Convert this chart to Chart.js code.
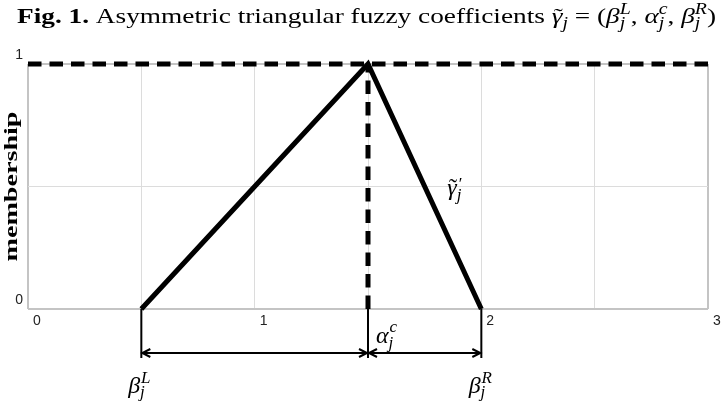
<!DOCTYPE html>
<html>
<head>
<meta charset="utf-8">
<script src="https://cdn.jsdelivr.net/npm/chart.js@4.4.0/dist/chart.umd.min.js"></script>
<style>
  html, body { margin: 0; padding: 0; background: #fff; }
  #wrap { width: 721px; height: 404px; }
</style>
</head>
<body>
<div id="wrap"><canvas id="fuzzy_Chart" width="721" height="404"></canvas></div>
<script>
// membership function (triangle)
const triangleX = [0.5, 1.5, 2];
const triangleY = [0, 1, 0];
// dashed guide lines
const topLineX = [0, 3];
const topLineY = [1, 1];
const centerLineX = [1.5, 1.5];
const centerLineY = [0, 1];
// tick labels shown
const xTicks = [0, 1, 2, 3];
const yTicks = [0, 1];
// spread brackets under the axis: left end, centre, right end
const bracketX = [0.5, 1.5, 2];

const serif = "'Liberation Serif', 'DejaVu Serif', serif";
const sans = "'Liberation Sans', Arial, sans-serif";
function font(style, size) {
    return style + ' ' + size + 'px ' + serif;
}
function toPoints(xs, ys) {
    return xs.map((x, i) => ({ x: x, y: ys[i] }));
}

// small rich-text helper (sub/superscripts, accents)
function partWidth(ctx, p) {
    if (p.accent) return 0;
    ctx.font = p.font;
    if (p.sup !== undefined) {
        const subW = ctx.measureText(p.sub).width;
        ctx.font = p.supFont || p.font;
        return Math.max(ctx.measureText(p.sup).width + (p.supDx || 0), subW);
    }
    return ctx.measureText(p.text).width;
}
function drawRich(ctx, parts, x, y, opts) {
    opts = opts || {};
    let total = 0;
    parts.forEach(p => { total += partWidth(ctx, p); });
    const sx = opts.width ? opts.width / total : 1;
    ctx.save();
    ctx.translate(x, y);
    if (opts.rotate) ctx.rotate(opts.rotate);
    ctx.scale(sx, 1);
    ctx.textAlign = 'left';
    ctx.textBaseline = 'alphabetic';
    ctx.fillStyle = '#000';
    let cx = opts.align === 'center' ? -total / 2 : 0;
    let lastX = 0, lastW = 0;
    parts.forEach(p => {
        const w = partWidth(ctx, p);
        ctx.font = p.font;
        if (p.accent) {
            const aw = ctx.measureText(p.accent).width;
            ctx.fillText(p.accent, lastX + lastW / 2 - aw / 2 + (p.dx || 0), p.dy || 0);
            return;
        }
        if (p.sup !== undefined) {
            ctx.fillText(p.sub, cx, p.subDy);
            ctx.font = p.supFont || p.font;
            ctx.fillText(p.sup, cx + (p.supDx || 0), p.supDy);
        } else {
            ctx.fillText(p.text, cx, p.dy || 0);
        }
        lastX = cx;
        lastW = w;
        cx += w;
    });
    ctx.restore();
}

const T = 22, S = 16;
const titleParts = [
    { text: 'Fig. 1.', font: font('bold', T) },
    { text: ' Asymmetric triangular fuzzy coefficients ', font: font('normal', T) },
    { text: 'γ', font: font('italic', T) },
    { accent: '˜', font: font('normal', T), dx: 1 },
    { text: 'j', font: font('italic', S), dy: 5 },
    { text: ' = (', font: font('normal', T) },
    { text: 'β', font: font('italic', T) },
    { sup: 'L', sub: 'j', font: font('italic', S), supDy: -9, subDy: 5 },
    { text: ', ', font: font('normal', T) },
    { text: 'α', font: font('italic', T) },
    { sup: 'c', sub: 'j', font: font('italic', S), supDy: -9, subDy: 5 },
    { text: ', ', font: font('normal', T) },
    { text: 'β', font: font('italic', T) },
    { sup: 'R', sub: 'j', font: font('italic', S), supDy: -9, subDy: 5 },
    { text: ')', font: font('normal', T) }
];

const annotationPlugin = {
    id: 'annotations',
    afterDraw(chart) {
        const ctx = chart.ctx;
        const xs = chart.scales.x;
        const ys = chart.scales.y;
        const bottom = chart.chartArea.bottom;

        // title
        drawRich(ctx, titleParts, 17, 23, { width: 699 });

        // y axis title
        drawRich(ctx, [{ text: 'membership', font: font('bold', 19) }],
            17, (chart.chartArea.top + bottom) / 2,
            { rotate: -Math.PI / 2, align: 'center', width: 150 });

        // brackets below the axis
        ctx.save();
        ctx.strokeStyle = '#000';
        ctx.lineWidth = 2;
        const px = bracketX.map(v => xs.getPixelForValue(v));
        px.forEach(p => {
            ctx.beginPath();
            ctx.moveTo(p, bottom);
            ctx.lineTo(p, bottom + 49);
            ctx.stroke();
        });
        const ay = bottom + 44;
        for (let i = 0; i < px.length - 1; i++) {
            const a = px[i] + 1, b = px[i + 1] - 1;
            ctx.beginPath();
            ctx.moveTo(a, ay);
            ctx.lineTo(b, ay);
            ctx.moveTo(a + 8, ay - 4);
            ctx.lineTo(a, ay);
            ctx.lineTo(a + 8, ay + 4);
            ctx.moveTo(b - 8, ay - 4);
            ctx.lineTo(b, ay);
            ctx.lineTo(b - 8, ay + 4);
            ctx.stroke();
        }
        ctx.restore();

        // labels
        const L = 24, s = 17;
        drawRich(ctx, [
            { text: 'β', font: font('italic', L) },
            { sup: 'L', sub: 'j', font: font('italic', s), supDy: -10, subDy: 4, supDx: 1 }
        ], px[0] - 2, bottom + 84, { align: 'center' });
        drawRich(ctx, [
            { text: 'α', font: font('italic', L) },
            { sup: 'c', sub: 'j', font: font('italic', s), supDy: -11, subDy: 5, supDx: 1 }
        ], px[1] + 8, bottom + 34);
        drawRich(ctx, [
            { text: 'β', font: font('italic', L) },
            { sup: 'R', sub: 'j', font: font('italic', s), supDy: -10, subDy: 4, supDx: 1 }
        ], px[2] - 1, bottom + 84, { align: 'center' });
        drawRich(ctx, [
            { text: 'γ', font: font('italic', L) },
            { accent: '˜', font: font('normal', L), dx: 1 },
            { sup: '′', sub: 'j', font: font('italic', s), supFont: font('normal', s),
              supDy: -6, subDy: 5, supDx: 2 }
        ], xs.getPixelForValue(1.85), ys.getPixelForValue(0.5) + 8);
    }
};

const edgeGrid = (ctx, lo, hi) => ctx.tick && (ctx.tick.value === lo || ctx.tick.value === hi);

const ctxFuzzy = document.getElementById('fuzzy_Chart').getContext('2d');
new Chart(ctxFuzzy, {
    type: 'scatter',
    data: {
        datasets: [
            {
                data: toPoints(triangleX, triangleY),
                borderColor: '#000',
                borderWidth: 5,
                showLine: true,
                pointRadius: 0,
                clip: false
            },
            {
                data: toPoints(centerLineX, centerLineY),
                borderColor: '#000',
                borderWidth: 5,
                borderDash: [13.5, 8],
                showLine: true,
                pointRadius: 0,
                clip: false
            },
            {
                data: toPoints(topLineX, topLineY),
                borderColor: '#000',
                borderWidth: 5,
                borderDash: [13.5, 8],
                showLine: true,
                pointRadius: 0,
                clip: false
            }
        ]
    },
    options: {
        responsive: false,
        maintainAspectRatio: false,
        devicePixelRatio: 1,
        animation: false,
        layout: {
            padding: { top: 64, right: 13, left: 0, bottom: 0 }
        },
        plugins: {
            legend: { display: false },
            title: { display: false },
            tooltip: { enabled: false }
        },
        scales: {
            x: {
                type: 'linear',
                min: 0,
                max: 3,
                afterFit: (scale) => { scale.height = 95; },
                ticks: {
                    stepSize: 0.5,
                    autoSkip: false,
                    maxRotation: 0,
                    align: 'start',
                    labelOffset: 5,
                    padding: 4,
                    color: '#222',
                    font: { family: sans, size: 14 },
                    callback: (v) => xTicks.includes(v) ? String(v) : ''
                },
                grid: {
                    drawTicks: false,
                    color: (c) => edgeGrid(c, 0, 3) ? '#c4c4c4' : '#dcdcdc',
                    lineWidth: (c) => edgeGrid(c, 0, 3) ? 2 : 1
                },
                border: { display: false }
            },
            y: {
                type: 'linear',
                min: 0,
                max: 1,
                afterFit: (scale) => { scale.width = 28; },
                ticks: {
                    stepSize: 0.5,
                    autoSkip: false,
                    labelOffset: -9,
                    padding: 5,
                    color: '#222',
                    font: { family: sans, size: 14 },
                    callback: (v) => yTicks.includes(v) ? String(v) : ''
                },
                grid: {
                    drawTicks: false,
                    color: (c) => edgeGrid(c, 0, 1) ? '#c4c4c4' : '#dcdcdc',
                    lineWidth: (c) => edgeGrid(c, 0, 1) ? 2 : 1
                },
                border: { display: false }
            }
        }
    },
    plugins: [annotationPlugin]
});
</script>
</body>
</html>
